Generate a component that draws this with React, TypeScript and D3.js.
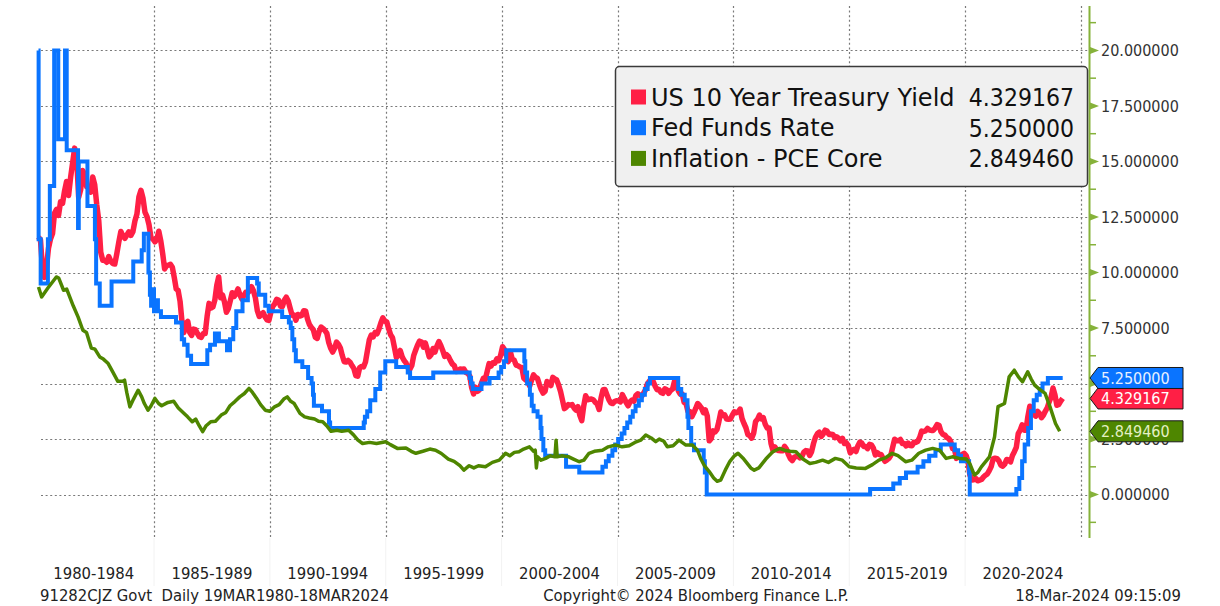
import React, { useEffect, useRef } from 'react';
import * as d3 from 'd3';

const W = 1220,
  H = 606;

// US 10 year treasury yield, monthly from Mar 1980 to Mar 2024
const ust10Start = 1980 + 2.5 / 12;
const ust10 = [
  11.6, 11.47, 10.18, 9.78, 10.25, 11.1, 11.51, 11.75, 12.68, 12.84,
  12.57, 13.19, 13.12, 13.68, 14.1, 13.47, 14.28, 14.94, 15.6, 15.15, 13.39, 13.72,
  14.59, 14.43, 13.86, 13.87, 13.62, 14.3, 13.95, 13.06, 12.34, 10.91, 10.55, 10.54,
  10.46, 10.72, 10.51, 10.4, 10.38, 10.85, 11.38, 11.85, 11.65, 11.54, 11.69, 11.83,
  11.67, 11.84, 12.32, 12.63, 13.41, 13.7, 13.36, 12.72, 12.52, 12.16, 11.57, 11.5,
  11.38, 11.51, 11.86, 11.43, 10.85, 10.16, 10.31, 10.33, 10.37, 10.24, 9.78, 9.26,
  9.19, 8.7, 7.78, 7.3, 7.71, 7.8, 7.3, 7.17, 7.45, 7.43, 7.25, 7.11,
  7.08, 7.25, 7.25, 8.02, 8.61, 8.4, 8.45, 8.76, 9.42, 9.8, 8.86, 8.99,
  8.67, 8.21, 8.37, 8.72, 9.09, 8.92, 9.06, 9.26, 8.98, 8.8, 8.96, 9.11,
  9.09, 9.17, 9.36, 9.18, 8.86, 8.28, 8.02, 8.11, 8.19, 8.01, 7.87, 7.84,
  8.21, 8.47, 8.59, 8.79, 8.76, 8.48, 8.47, 8.75, 8.89, 8.72, 8.39, 8.08,
  8.09, 7.85, 8.11, 8.04, 8.07, 8.28, 8.27, 7.9, 7.65, 7.53, 7.42, 7.09,
  7.03, 7.34, 7.54, 7.48, 7.39, 7.26, 6.84, 6.59, 6.42, 6.59, 6.87, 6.77,
  6.6, 6.26, 5.98, 5.97, 6.04, 5.96, 5.81, 5.68, 5.36, 5.33, 5.72, 5.77,
  5.75, 5.97, 6.48, 6.97, 7.18, 7.1, 7.3, 7.24, 7.46, 7.74, 7.96, 7.81,
  7.78, 7.47, 7.2, 7.06, 6.63, 6.17, 6.28, 6.49, 6.2, 6.04, 5.93, 5.71,
  5.65, 5.81, 6.27, 6.51, 6.74, 6.91, 6.87, 6.64, 6.83, 6.53, 6.2, 6.3,
  6.58, 6.42, 6.69, 6.89, 6.71, 6.49, 6.22, 6.3, 6.21, 6.03, 5.88, 5.81,
  5.54, 5.57, 5.65, 5.64, 5.65, 5.5, 5.46, 5.34, 4.81, 4.53, 4.83, 4.65,
  4.72, 5.0, 5.23, 5.18, 5.54, 5.9, 5.79, 5.94, 5.92, 6.11, 6.03, 6.28,
  6.66, 6.52, 6.26, 5.99, 6.44, 6.1, 6.05, 5.83, 5.8, 5.74, 5.72, 5.24,
  5.16, 5.1, 4.89, 5.14, 5.39, 5.28, 5.24, 4.97, 4.73, 4.57, 4.65, 5.09,
  5.04, 4.91, 5.28, 5.21, 5.16, 4.93, 4.65, 4.26, 3.87, 3.94, 4.05, 4.03,
  4.05, 3.9, 3.81, 3.96, 3.57, 3.33, 3.98, 4.45, 4.27, 4.29, 4.3, 4.27,
  4.15, 4.08, 3.83, 4.35, 4.72, 4.73, 4.5, 4.28, 4.13, 4.1, 4.19, 4.23,
  4.22, 4.17, 4.5, 4.34, 4.14, 4.0, 4.18, 4.26, 4.2, 4.46, 4.54, 4.47,
  4.42, 4.57, 4.72, 4.99, 5.11, 5.11, 5.09, 4.88, 4.72, 4.73, 4.6, 4.56,
  4.76, 4.72, 4.56, 4.69, 4.75, 5.1, 5.0, 4.67, 4.52, 4.53, 4.15, 4.1,
  3.74, 3.74, 3.51, 3.68, 3.88, 4.1, 4.01, 3.89, 3.69, 3.81, 3.53, 2.42,
  2.52, 2.87, 2.82, 2.93, 3.29, 3.72, 3.56, 3.59, 3.4, 3.39, 3.4, 3.59,
  3.73, 3.69, 3.73, 3.85, 3.42, 3.2, 3.01, 2.7, 2.65, 2.54, 2.76, 3.29,
  3.39, 3.58, 3.41, 3.46, 3.17, 3.0, 3.0, 2.3, 1.98, 2.15, 2.01, 1.98,
  1.97, 1.97, 2.17, 2.05, 1.8, 1.62, 1.53, 1.68, 1.72, 1.75, 1.65, 1.72,
  1.91, 1.98, 1.96, 1.76, 1.93, 2.3, 2.58, 2.74, 2.81, 2.62, 2.72, 2.9,
  2.86, 2.71, 2.72, 2.71, 2.56, 2.6, 2.54, 2.42, 2.53, 2.3, 2.33, 2.21,
  1.88, 1.98, 2.04, 1.94, 2.2, 2.36, 2.32, 2.17, 2.17, 2.07, 2.26, 2.24,
  2.09, 1.78, 1.89, 1.81, 1.81, 1.64, 1.5, 1.56, 1.63, 1.76, 2.14, 2.49,
  2.43, 2.42, 2.48, 2.3, 2.3, 2.19, 2.32, 2.21, 2.2, 2.36, 2.35, 2.4,
  2.58, 2.86, 2.84, 2.87, 2.98, 2.91, 2.89, 2.89, 3.0, 3.15, 3.12, 2.83,
  2.71, 2.68, 2.57, 2.53, 2.4, 2.07, 2.06, 1.63, 1.7, 1.71, 1.81, 1.86,
  1.76, 1.5, 0.87, 0.66, 0.67, 0.73, 0.62, 0.65, 0.68, 0.79, 0.87, 0.93,
  1.08, 1.26, 1.61, 1.64, 1.62, 1.52, 1.32, 1.28, 1.37, 1.58, 1.56, 1.47,
  1.76, 1.93, 2.13, 2.75, 2.9, 3.14, 2.9, 2.9, 3.52, 3.98, 3.89, 3.62,
  3.53, 3.75, 3.66, 3.46, 3.57, 3.75, 3.9, 4.17, 4.38, 4.8, 4.5, 4.02,
  4.06, 4.21, 4.33,
];

// fed funds rate: dates where the rate changes, and the new rate
const fedDates = [
  1980.21, 1980.215, 1980.3, 1980.6, 1980.68, 1980.86, 1981.03, 1981.31, 1981.38, 1981.85,
  1981.88, 1982.24, 1982.55, 1982.6, 1982.75, 1983.24, 1984.14, 1984.49, 1984.58, 1984.77,
  1984.83, 1984.88, 1984.93, 1985.0, 1985.08, 1985.17, 1985.3, 1985.95, 1986.2, 1986.3,
  1986.45, 1986.6, 1987.3, 1987.42, 1987.63, 1987.8, 1988.15, 1988.28, 1988.42, 1988.55,
  1988.82, 1989.05, 1989.45, 1989.52, 1989.8, 1989.95, 1990.53, 1990.82, 1990.9, 1990.97,
  1991.05, 1991.12, 1991.4, 1991.65, 1991.8, 1991.86, 1991.9, 1992.25, 1992.55, 1992.6,
  1994.05, 1994.1, 1994.2, 1994.33, 1994.55, 1994.76, 1994.98, 1995.45, 1995.95, 1996.05,
  1997.05, 1998.62, 1998.68, 1998.75, 1999.13, 1999.48, 1999.87, 1999.98, 2000.1, 2000.2,
  2000.98, 2001.02, 2001.1, 2001.22, 2001.3, 2001.38, 2001.55, 2001.68, 2001.72, 2001.8,
  2001.88, 2002.78, 2003.35, 2004.35, 2004.5, 2004.62, 2004.78, 2004.9, 2005.03, 2005.18,
  2005.3, 2005.42, 2005.55, 2005.66, 2005.78, 2005.92, 2006.05, 2006.18, 2006.3, 2006.4,
  2007.62, 2007.75, 2007.9, 2008.02, 2008.06, 2008.18, 2008.3, 2008.72, 2008.77, 2008.85,
  2015.9, 2016.9, 2017.18, 2017.45, 2017.95, 2018.2, 2018.45, 2018.72, 2018.95, 2019.55,
  2019.7, 2019.82, 2020.17, 2020.2, 2022.21, 2022.34, 2022.46, 2022.57, 2022.72, 2022.84,
  2022.96, 2023.09, 2023.22, 2023.34, 2023.57, 2024.21,
];
const fedRates = [
  20, 11.5, 9.5, 11.5, 13.9, 20, 16, 20, 15.5, 12,
  15, 13, 11.5, 9.5, 8.5, 9.6, 10.5, 11, 11.75, 10,
  9, 8.5, 9.25, 8.25, 8.75, 8.25, 8, 7.75, 7, 6.75,
  6.25, 5.88, 6.5, 6.75, 7.25, 6.9, 6.5, 7, 7.5, 8.25,
  8.75, 9.75, 9.5, 9, 8.5, 8.25, 8, 7.75, 7.5, 7,
  6.5, 6, 5.75, 5.25, 5, 4.5, 4, 3.75, 3.25, 3,
  3.25, 3.5, 3.75, 4.25, 4.75, 5.5, 6, 5.75, 5.5, 5.25,
  5.5, 5.25, 5, 4.75, 5, 5.25, 5.5, 5.75, 6, 6.5,
  6, 5.5, 5, 4.5, 4, 3.75, 3.5, 3, 2.5, 2,
  1.75, 1.25, 1, 1.25, 1.5, 1.75, 2, 2.25, 2.5, 2.75,
  3, 3.25, 3.5, 3.75, 4, 4.25, 4.5, 4.75, 5, 5.25,
  4.75, 4.5, 4.25, 3.5, 3, 2.25, 2, 1.5, 1, 0,
  0.25, 0.5, 0.75, 1, 1.25, 1.5, 1.75, 2, 2.25, 2,
  1.75, 1.5, 1, 0, 0.25, 0.75, 1.5, 2.25, 3, 3.75,
  4.25, 4.5, 4.75, 5, 5.25, 5.25,
];

// core PCE inflation
const pceDates = [
  1980.21, 1980.34, 1980.6, 1980.95, 1981.05, 1981.25, 1981.38, 1981.65, 1981.85, 1982.05,
  1982.2, 1982.4, 1982.55, 1982.75, 1982.9, 1983.1, 1983.3, 1983.5, 1983.7, 1983.78,
  1983.87, 1984.0, 1984.15, 1984.34, 1984.49, 1984.6, 1984.75, 1984.88, 1985.04, 1985.2,
  1985.33, 1985.6, 1985.85, 1986.05, 1986.3, 1986.45, 1986.65, 1986.8, 1986.95, 1987.1,
  1987.25, 1987.45, 1987.65, 1987.9, 1988.1, 1988.28, 1988.5, 1988.7, 1988.9, 1989.1,
  1989.25, 1989.43, 1989.6, 1989.8, 1990.0, 1990.2, 1990.4, 1990.6, 1990.75, 1990.9,
  1991.05, 1991.3, 1991.5, 1991.7, 1991.93, 1992.1, 1992.28, 1992.45, 1992.64, 1992.9,
  1993.1, 1993.4, 1993.6, 1993.8, 1994.0, 1994.3, 1994.6, 1995.0, 1995.2, 1995.5,
  1995.87, 1996.1, 1996.3, 1996.6, 1996.9, 1997.15, 1997.4, 1997.7, 1997.95, 1998.2,
  1998.37, 1998.6, 1998.8, 1999.0, 1999.3, 1999.6, 1999.9, 2000.17, 2000.35, 2000.55,
  2000.75, 2000.95, 2001.2, 2001.38, 2001.45, 2001.5, 2001.55, 2001.7, 2001.9, 2002.1,
  2002.3, 2002.35, 2002.4, 2002.6, 2002.9, 2003.1, 2003.35, 2003.55, 2003.77, 2004.0,
  2004.35, 2004.6, 2004.93, 2005.2, 2005.5, 2005.75, 2006.0, 2006.22, 2006.45, 2006.65,
  2006.8, 2007.0, 2007.15, 2007.4, 2007.65, 2007.95, 2008.23, 2008.45, 2008.6, 2008.75,
  2008.95, 2009.15, 2009.3, 2009.45, 2009.65, 2009.85, 2010.05, 2010.2, 2010.45, 2010.75,
  2010.9, 2011.1, 2011.4, 2011.7, 2012.0, 2012.2, 2012.45, 2012.7, 2013.0, 2013.3,
  2013.55, 2013.85, 2014.1, 2014.4, 2014.7, 2015.0, 2015.3, 2015.7, 2016.0, 2016.28,
  2016.55, 2016.85, 2017.1, 2017.43, 2017.7, 2018.0, 2018.3, 2018.6, 2018.9, 2019.18,
  2019.45, 2019.75, 2020.05, 2020.2, 2020.4, 2020.55, 2020.7, 2021.05, 2021.27, 2021.42,
  2021.7, 2021.9, 2022.12, 2022.3, 2022.48, 2022.7, 2022.85, 2023.0, 2023.2, 2023.45,
  2023.66, 2023.9, 2024.08,
];
const pceValues = [
  9.35, 8.9, 9.3, 9.8, 9.75, 9.2, 9.25, 8.5, 8.0, 7.4,
  7.3, 6.6, 6.55, 6.2, 6.1, 5.9, 5.5, 5.1, 5.1, 5.15,
  4.6, 3.95, 4.3, 4.7, 4.4, 4.1, 3.8, 4.0, 4.33, 4.1,
  4.0, 4.15, 4.2, 3.9, 3.65, 3.5, 3.28, 3.4, 3.1, 2.83,
  3.1, 3.28, 3.3, 3.58, 3.7, 4.0, 4.2, 4.4, 4.55, 4.78,
  4.6, 4.33, 4.05, 3.8, 3.75, 3.95, 4.05, 4.3, 4.4, 4.2,
  4.1, 3.66, 3.5, 3.45, 3.4, 3.3, 3.28, 3.1, 2.85, 2.9,
  2.85, 2.9, 2.7, 2.45, 2.3, 2.35, 2.3, 2.38, 2.25, 2.08,
  2.1, 1.95, 1.86, 1.95, 2.05, 2.0, 1.85, 1.6, 1.5, 1.3,
  1.1, 1.3, 1.2, 1.3, 1.25, 1.45, 1.55, 1.86, 1.75, 1.9,
  1.93, 2.05, 2.15, 1.95, 2.0, 1.2, 1.7, 1.55, 1.63, 1.75,
  1.7, 2.45, 1.7, 1.75, 1.7, 1.6, 1.48, 1.55, 1.86, 1.95,
  2.0, 2.15, 2.23, 2.15, 2.2, 2.35, 2.45, 2.68, 2.55, 2.38,
  2.5, 2.4, 2.15, 2.2, 2.45, 2.23, 2.23, 2.0, 1.6, 1.3,
  1.05, 0.75, 0.6, 0.65, 1.1, 1.5, 1.75, 1.86, 1.6, 1.2,
  1.1, 1.2, 1.6, 1.93, 2.08, 2.0, 1.95, 1.93, 1.6, 1.4,
  1.45, 1.55, 1.45, 1.63, 1.55, 1.25, 1.2, 1.18, 1.35, 1.55,
  1.65, 1.86, 1.75, 1.48, 1.55, 1.86, 2.0, 2.08, 2.0, 1.63,
  1.7, 1.63, 1.6, 1.4, 0.88, 1.0, 1.25, 1.7, 2.6, 3.96,
  4.1, 5.3, 5.6, 5.3, 5.08, 5.53, 5.2, 4.93, 4.75, 4.56,
  3.96, 3.2, 2.85,
];

const yTicks = [0, 2.5, 5, 7.5, 10, 12.5, 15, 17.5, 20];
const yMinor = [-1.25, 1.25, 3.75, 6.25, 8.75, 11.25, 13.75, 16.25, 18.75, 21.25];
// 5.000000 sits fully under the last value tags, so its label is not drawn
const yLabels = [0, 2.5, 7.5, 10, 12.5, 15, 17.5, 20];
const gridYears = [1985, 1990, 1995, 2000, 2005, 2010, 2015, 2020, 2025];
const periodStarts = [1980, 1985, 1990, 1995, 2000, 2005, 2010, 2015, 2020];
const periodLabels = [
  '1980-1984', '1985-1989', '1990-1994', '1995-1999', '2000-2004',
  '2005-2009', '2010-2014', '2015-2019', '2020-2024',
];

const legendNames = ['US 10 Year Treasury Yield', 'Fed Funds Rate', 'Inflation - PCE Core'];
const legendValues = ['4.329167', '5.250000', '2.849460'];
const lastValues = [4.329167, 5.25, 2.84946];

const RED = '#ff1f45';
const BLUE = '#0a74ff';
const GREEN = '#4e8600';
const AXIS = '#86b23a';
const FONT = "'DejaVu Sans Condensed', 'DejaVu Sans', sans-serif";
const FONT_WIDE = "'DejaVu Sans', sans-serif";

const App = () => {
  const ref = useRef<SVGSVGElement>(null);

  useEffect(() => {
    document.body.style.margin = '0';
    const svg = d3.select(ref.current);
    svg.selectAll('*').remove();

    const x = d3.scaleLinear().domain([1980.21, 1985, 2025]).range([38.5, 154, 1081]);
    const y = d3.scaleLinear().domain([-2, 22]).range([539, 6]);

    svg.append('rect').attr('width', W).attr('height', H).attr('fill', '#fff');

    // faint separators under the plot
    svg
      .selectAll('.sep')
      .data(gridYears.slice(0, -1))
      .enter()
      .append('line')
      .attr('x1', (d) => x(d))
      .attr('x2', (d) => x(d))
      .attr('y1', 538)
      .attr('y2', 586)
      .attr('stroke', '#f2f2f2');

    // grid
    const grid = svg.append('g').attr('stroke', '#7a7a7a').attr('stroke-width', 1.2).attr('stroke-dasharray', '2,2.6');
    grid
      .selectAll('.hg')
      .data(yTicks)
      .enter()
      .append('line')
      .attr('x1', 41)
      .attr('x2', 1088)
      .attr('y1', (d) => Math.round(y(d)) + 0.5)
      .attr('y2', (d) => Math.round(y(d)) + 0.5);
    grid
      .selectAll('.vg')
      .data(gridYears)
      .enter()
      .append('line')
      .attr('x1', (d) => Math.round(x(d)) + 0.5)
      .attr('x2', (d) => Math.round(x(d)) + 0.5)
      .attr('y1', 6)
      .attr('y2', 537);

    // series
    const redPts = ust10.map((v, i) => [ust10Start + i / 12, v]);
    const bluePts = fedDates.map((d, i) => [d, fedRates[i]]);
    const greenPts = pceDates.map((d, i) => [d, pceValues[i]]);

    const line = d3
      .line<number[]>()
      .x((d) => x(d[0]))
      .y((d) => y(d[1]));
    const step = d3
      .line<number[]>()
      .x((d) => x(d[0]))
      .y((d) => y(d[1]))
      .curve(d3.curveStepAfter);

    svg
      .append('path')
      .attr('d', line(redPts))
      .attr('fill', 'none')
      .attr('stroke', RED)
      .attr('stroke-width', 5.5)
      .attr('stroke-linejoin', 'round');
    svg
      .append('path')
      .attr('d', step(bluePts))
      .attr('fill', 'none')
      .attr('stroke', BLUE)
      .attr('stroke-width', 4);
    svg
      .append('path')
      .attr('d', line(greenPts))
      .attr('fill', 'none')
      .attr('stroke', GREEN)
      .attr('stroke-width', 3.5)
      .attr('stroke-linejoin', 'round');

    // right axis
    const ax = svg.append('g');
    ax.append('line')
      .attr('x1', 1089.5)
      .attr('x2', 1089.5)
      .attr('y1', 6)
      .attr('y2', 538)
      .attr('stroke', AXIS)
      .attr('stroke-width', 2);
    ax.selectAll('.mt')
      .data(yMinor)
      .enter()
      .append('line')
      .attr('x1', 1090)
      .attr('x2', 1096)
      .attr('y1', (d) => y(d))
      .attr('y2', (d) => y(d))
      .attr('stroke', AXIS)
      .attr('stroke-width', 1.5);
    ax.selectAll('.tri')
      .data(yTicks)
      .enter()
      .append('path')
      .attr('d', (d) => `M1090,${y(d) - 3.5}L1099,${y(d)}L1090,${y(d) + 3.5}Z`)
      .attr('fill', AXIS);
    ax.selectAll('.tl')
      .data(yLabels)
      .enter()
      .append('text')
      .attr('x', 1101)
      .attr('y', (d) => y(d))
      .attr('dy', '0.36em')
      .attr('font-family', FONT)
      .attr('font-size', 16)
      .attr('fill', '#333')
      .text((d) => d3.format('.6f')(d));

    // last value tags
    const tagColors = [RED, BLUE, GREEN];
    const tagText = ['#ffffff', '#e8f0ff', '#e4f0c4'];
    [2, 0, 1].forEach((i) => {
      const c = y(lastValues[i]);
      const g = svg.append('g');
      g.append('path')
        .attr('d', `M1090,${c}L1098,${c - 10.5}L1183,${c - 10.5}L1183,${c + 10.5}L1098,${c + 10.5}Z`)
        .attr('fill', tagColors[i])
        .attr('stroke', '#1a1a1a')
        .attr('stroke-width', 1);
      g.append('text')
        .attr('x', 1101)
        .attr('y', c)
        .attr('dy', '0.36em')
        .attr('font-family', FONT)
        .attr('font-size', 16)
        .attr('fill', tagText[i])
        .text(legendValues[i]);
    });

    // legend
    const lg = svg.append('g');
    lg.append('rect')
      .attr('x', 615.5)
      .attr('y', 66.5)
      .attr('width', 472)
      .attr('height', 120)
      .attr('rx', 4)
      .attr('fill', '#f0f0f0')
      .attr('stroke', '#3a3a3a')
      .attr('stroke-width', 1.5);
    legendNames.forEach((name, i) => {
      const cy = 97 + i * 30.7;
      lg.append('rect')
        .attr('x', 631)
        .attr('y', cy - 7.5)
        .attr('width', 15)
        .attr('height', 15)
        .attr('fill', tagColors[i]);
      lg.append('text')
        .attr('x', 651)
        .attr('y', cy)
        .attr('dy', '0.36em')
        .attr('font-family', FONT_WIDE)
        .attr('font-size', 24)
        .attr('fill', '#111')
        .text(name);
      lg.append('text')
        .attr('x', 1074)
        .attr('y', cy)
        .attr('dy', '0.36em')
        .attr('text-anchor', 'end')
        .attr('font-family', FONT)
        .attr('font-size', 24.5)
        .attr('fill', '#111')
        .text(legendValues[i]);
    });

    // period labels
    svg
      .selectAll('.pl')
      .data(periodLabels)
      .enter()
      .append('text')
      .attr('x', (_, i) => x(periodStarts[i] + 2.5))
      .attr('y', 578.5)
      .attr('text-anchor', 'middle')
      .attr('font-family', FONT)
      .attr('font-size', 16.5)
      .attr('fill', '#222')
      .text((d) => d);

    // footer
    const foot = [
      { t: '91282CJZ Govt  Daily 19MAR1980-18MAR2024', x: 40, a: 'start' },
      { t: 'Copyright\u00a9 2024 Bloomberg Finance L.P.', x: 696, a: 'middle' },
      { t: '18-Mar-2024 09:15:09', x: 1181, a: 'end' },
    ];
    svg
      .selectAll('.ft')
      .data(foot)
      .enter()
      .append('text')
      .attr('x', (d) => d.x)
      .attr('y', 600.5)
      .attr('text-anchor', (d) => d.a)
      .attr('font-family', FONT)
      .attr('font-size', 16.5)
      .attr('fill', '#222')
      .style('white-space', 'pre')
      .text((d) => d.t);
  }, []);

  return <svg ref={ref} width={W} height={H} style={{ display: 'block' }} />;
};

export default App;
